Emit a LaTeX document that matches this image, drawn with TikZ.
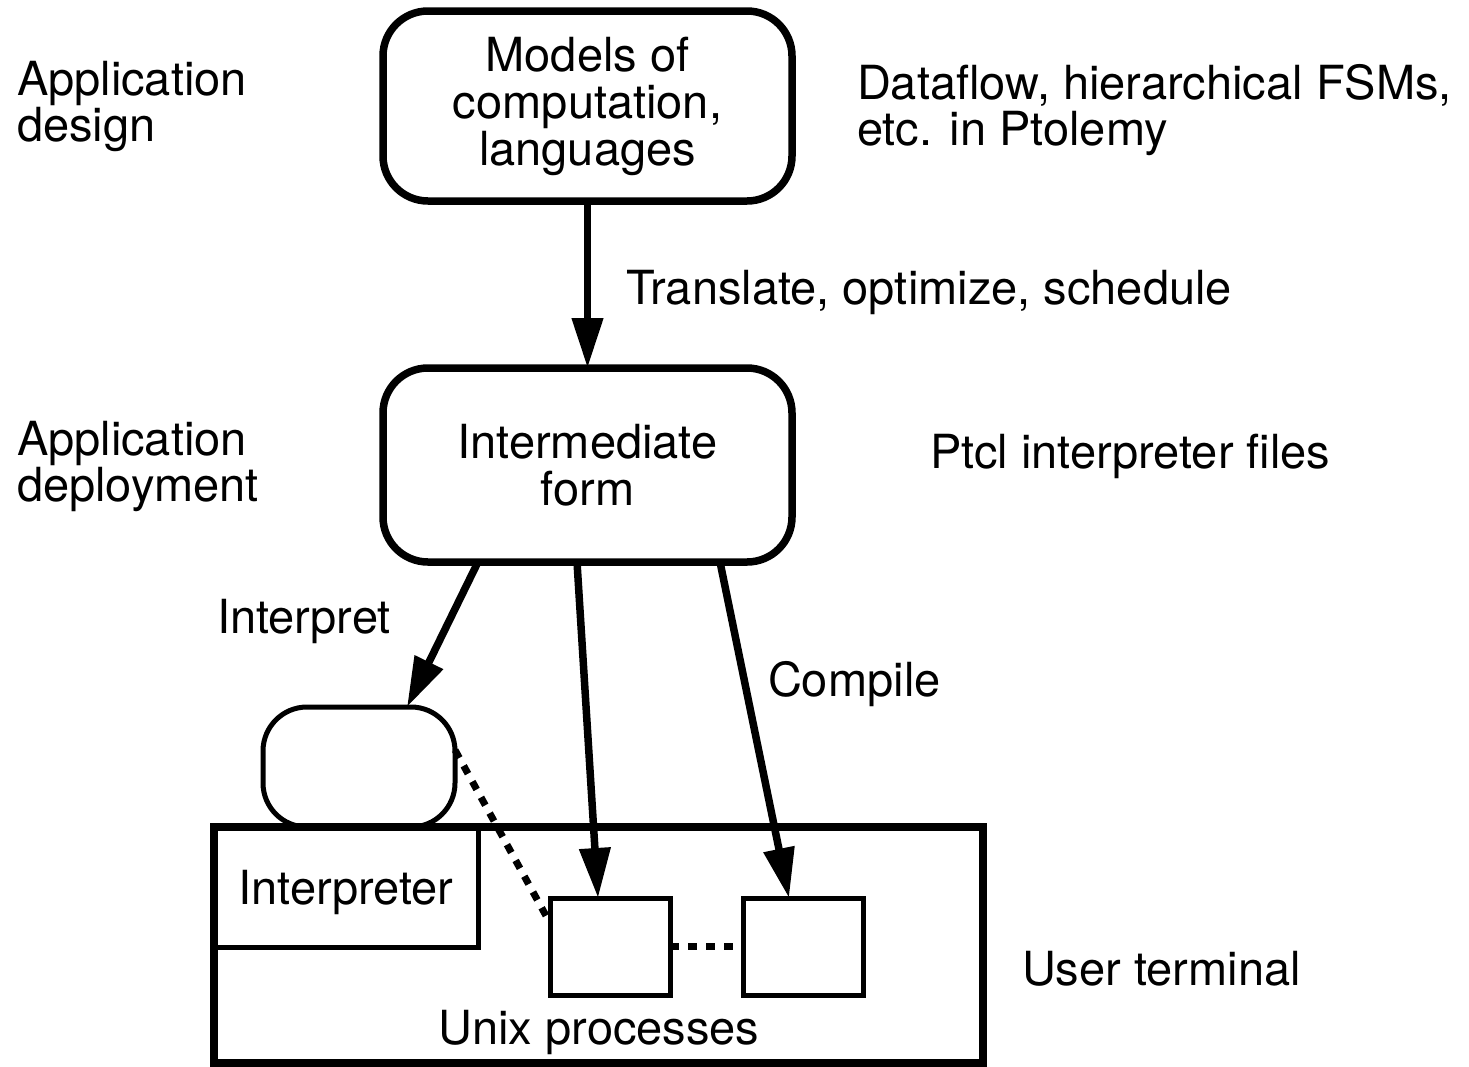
\documentclass[tikz,border=0pt]{standalone}
\usepackage{fontspec}
\setmainfont{TeX Gyre Heros}
\usetikzlibrary{arrows.meta}
\begin{document}
\begin{tikzpicture}[x=1pt,y=-1pt,
  every node/.style={inner sep=0pt,outer sep=0pt},
  txt/.style={font=\fontsize{47}{46}\selectfont},
  stagebox/.style={draw,line width=7.5pt,rounded corners=45pt,
    minimum width=409pt,align=center,font=\fontsize{47}{47}\selectfont},
  procbox/.style={draw,line width=5pt,minimum width=120pt,minimum height=97pt},
  arr/.style={line width=7.5pt,-{Triangle[length=50pt,width=30pt]}},
  dots/.style={line width=7pt,dash pattern=on 9pt off 9pt}
]
\useasboundingbox (0,0) rectangle (1469,1066);

% design and deployment stages
\node[stagebox,minimum height=190pt] (models) at (587.5,106)
  {Models of\\computation,\\languages};
\node[stagebox,minimum height=194pt] (inter) at (587.5,465)
  {Intermediate\\form};

% side labels
\node[txt,anchor=north west,align=left] (appdesign) at (17,61.3) {Application\\design};
\node[txt,anchor=north west,align=left] (dataflow) at (857,64.3) {Dataflow, hierarchical FSMs,\\etc. in Ptolemy};
\node[txt,anchor=north west,align=left] (appdeploy) at (17,421.3) {Application\\deployment};
\node[txt,anchor=base west] (translate) at (626,304) {Translate, optimize, schedule};
\node[txt,anchor=base west] (ptcl) at (930,468) {Ptcl interpreter files};
\node[txt,anchor=base west] (interpret) at (217,633) {Interpret};
\node[txt,anchor=base west] (compile) at (768,696) {Compile};
\node[txt,anchor=base west] (user) at (1022,985) {User terminal};

% user terminal and its contents
\node[draw,line width=8.5pt,minimum width=769pt,minimum height=236pt] (term) at (598.5,945) {};
\node[draw,line width=5pt,minimum width=264pt,minimum height=120pt,
  txt,text height=34pt,text depth=0pt] (interp) at (346,887) {Interpreter};
\node[draw,line width=5pt,rounded corners=44pt,minimum width=192pt,minimum height=120pt]
  (shell) at (359,767) {};
\node[procbox] (p1) at (610,946.5) {};
\node[procbox] (p2) at (803,946.5) {};
\node[txt,anchor=base] (unix) at (599,1044) {Unix processes};

% flows
\draw[arr] (models.south) -- (inter.north);
\draw[arr] ([xshift=-109.5pt]inter.south) -- ([xshift=48pt]shell.north);
\draw[arr] ([xshift=-10.5pt]inter.south) -- ([xshift=-12pt]p1.north);
\draw[arr] ([xshift=132.5pt]inter.south) -- ([xshift=-14pt]p2.north);
\draw[dots] ([yshift=17pt]shell.east) -- ([yshift=23.5pt]p1.west);
\draw[dots] (p1.east) -- (p2.west);
\end{tikzpicture}
\end{document}
